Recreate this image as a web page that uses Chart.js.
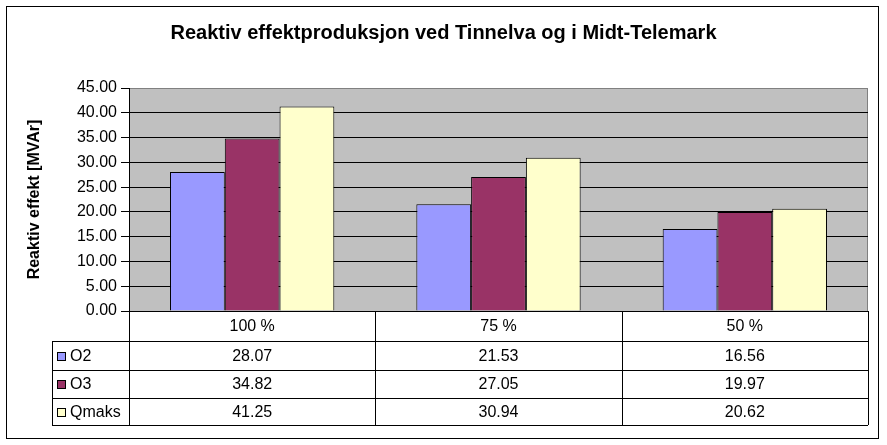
<!DOCTYPE html>
<html>
<head>
<meta charset="utf-8">
<script src="https://cdn.jsdelivr.net/npm/chart.js@4/dist/chart.umd.min.js"></script>
<style>
  body { margin: 0; background: #fff; }
  canvas { display: block; }
</style>
</head>
<body>
<canvas id="chart" width="887" height="445"></canvas>
<script>
// ===== データ =====
const categories = ['100 %', '75 %', '50 %'];
const seriesNames = ['O2', 'O3', 'Qmaks'];
const valuesO2 = [28.07, 21.53, 16.56];
const valuesO3 = [34.82, 27.05, 19.97];
const valuesQmaks = [41.25, 30.94, 20.62];
const seriesColors = ['#9999FF', '#993366', '#FFFFCC'];

const FONT = '"Liberation Sans", Arial, sans-serif';

// ===== 背景・枠線 =====
const framePlugin = {
    id: 'frame',
    beforeDraw(chart) {
        const ctx = chart.ctx;
        const a = chart.chartArea;
        ctx.save();
        ctx.fillStyle = '#fff';
        ctx.fillRect(0, 0, chart.width, chart.height);
        ctx.strokeStyle = '#000';
        ctx.lineWidth = 1;
        ctx.strokeRect(6.5, 6.5, 872, 432);
        ctx.fillStyle = '#C0C0C0';
        ctx.fillRect(a.left, a.top, a.right - a.left, a.bottom - a.top);
        ctx.strokeStyle = '#808080';
        ctx.beginPath();
        ctx.moveTo(a.left, a.top + 0.5);
        ctx.lineTo(a.right - 0.5, a.top + 0.5);
        ctx.lineTo(a.right - 0.5, a.bottom);
        ctx.stroke();
        ctx.restore();
    }
};

// ===== データテーブル =====
const tablePlugin = {
    id: 'dataTable',
    afterDraw(chart) {
        const ctx = chart.ctx;
        const a = chart.chartArea;
        const xScale = chart.scales.x;
        const n = categories.length;
        const colW = (a.right - a.left) / n;
        const rows = [a.bottom, 341, 370, 398, 425];
        const legendLeft = 52;
        const px = v => Math.round(v) + 0.5;

        ctx.save();
        ctx.strokeStyle = '#000';
        ctx.lineWidth = 1;
        ctx.beginPath();
        // 縦線
        for (let i = 0; i <= n; i++) {
            const x = px(a.left + i * colW);
            ctx.moveTo(x, a.bottom);
            ctx.lineTo(x, rows[rows.length - 1]);
        }
        ctx.moveTo(px(legendLeft), rows[1]);
        ctx.lineTo(px(legendLeft), rows[rows.length - 1]);
        // 横線
        for (let r = 1; r < rows.length; r++) {
            ctx.moveTo(legendLeft, px(rows[r]));
            ctx.lineTo(a.right, px(rows[r]));
        }
        ctx.stroke();

        ctx.fillStyle = '#000';
        ctx.font = '16px ' + FONT;
        ctx.textAlign = 'center';
        ctx.textBaseline = 'middle';
        categories.forEach((c, i) => {
            ctx.fillText(c, xScale.getPixelForValue(i), (rows[0] + rows[1]) / 2 + 1);
        });

        chart.data.datasets.forEach((ds, r) => {
            const yMid = (rows[r + 1] + rows[r + 2]) / 2 + 1;
            ds.data.forEach((v, i) => {
                ctx.textAlign = 'center';
                ctx.fillText(v.toFixed(2), xScale.getPixelForValue(i), yMid);
            });
            // 凡例キー
            ctx.fillStyle = ds.backgroundColor;
            ctx.fillRect(57, Math.round(yMid) - 5, 9, 9);
            ctx.strokeRect(57.5, Math.round(yMid) - 4.5, 8, 8);
            ctx.fillStyle = '#000';
            ctx.textAlign = 'left';
            ctx.fillText(ds.label, 70, yMid);
        });
        ctx.restore();
    }
};

const seriesValues = [valuesO2, valuesO3, valuesQmaks];

new Chart(document.getElementById('chart'), {
    type: 'bar',
    data: {
        labels: categories,
        datasets: seriesNames.map((name, i) => ({
            label: name,
            data: seriesValues[i],
            backgroundColor: seriesColors[i],
            borderColor: '#000',
            borderWidth: 1,
            categoryPercentage: 0.667,
            barPercentage: 1.0
        }))
    },
    options: {
        responsive: false,
        animation: false,
        devicePixelRatio: 1,
        layout: { padding: { top: 0, left: 0, right: 0, bottom: 134 } },
        plugins: {
            legend: { display: false },
            tooltip: { enabled: false },
            title: {
                display: true,
                text: 'Reaktiv effektproduksjon ved Tinnelva og i Midt-Telemark',
                color: '#000',
                font: { family: FONT, size: 20, weight: 'bold', lineHeight: 1.2 },
                padding: { top: 21, bottom: 43 }
            }
        },
        scales: {
            x: {
                ticks: { display: false },
                grid: { display: false },
                border: { display: true, color: '#000' },
                afterFit: s => { s.height = 0; }
            },
            y: {
                min: 0,
                max: 45,
                ticks: {
                    stepSize: 5,
                    color: '#000',
                    font: { family: FONT, size: 16 },
                    padding: 4,
                    callback: v => v.toFixed(2)
                },
                grid: {
                    color: c => (c.tick && c.tick.value === 45 ? '#808080' : '#000'),
                    tickColor: '#000',
                    tickLength: 8
                },
                border: { display: true, color: '#000' },
                title: {
                    display: true,
                    text: 'Reaktiv effekt [MVAr]',
                    color: '#000',
                    font: { family: FONT, size: 16, weight: 'bold', lineHeight: 1.2 },
                    padding: { top: 25, bottom: 0 }
                },
                afterFit: s => { s.width = 129; }
            },
            // 右側の余白用（表示なし）
            yRight: {
                position: 'right',
                display: true,
                ticks: { display: false },
                grid: { display: false },
                border: { display: false },
                afterFit: s => { s.width = 19; }
            }
        }
    },
    plugins: [framePlugin, tablePlugin]
});
</script>
</body>
</html>
